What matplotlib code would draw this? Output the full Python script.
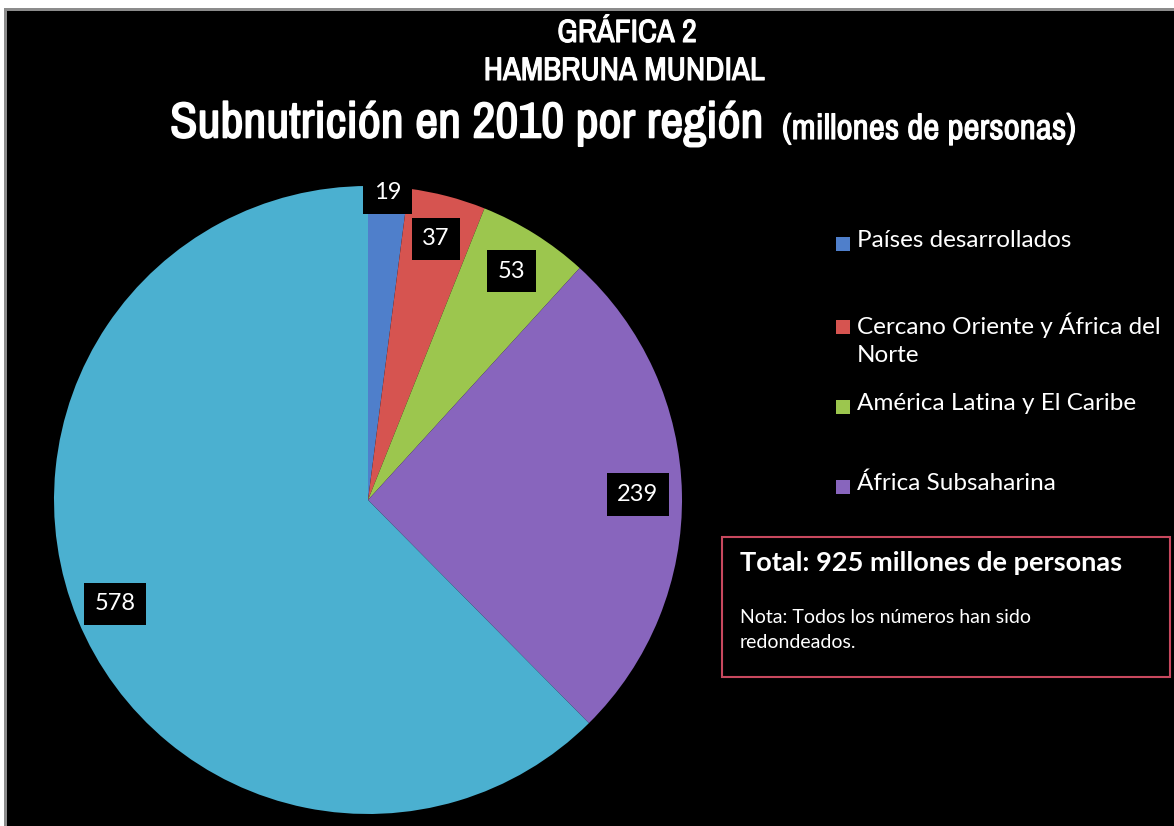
import numpy as np
import matplotlib
matplotlib.use('Agg')
import matplotlib.pyplot as plt
from matplotlib.patches import Rectangle
from matplotlib import patheffects

# Data
regions = ['Países desarrollados', 'Cercano Oriente y África del\nNorte',
           'América Latina y El Caribe', 'África Subsaharina', 'Asia y el Pacífico']
values = [19, 37, 53, 239, 578]
colors = ['#4F7FCB', '#D65450', '#9CC64E', '#8865BD', '#4BB0D0']
total_reported = 925

body = 'Lato'
narrow = ['Archivo Narrow', 'DejaVu Sans']


def bold_fx(lw):
    # Archivo Narrow has no bold face here, thicken it with a stroke
    return [patheffects.withStroke(linewidth=lw, foreground='white')]


W, H = 1174, 826
fig = plt.figure(figsize=(W / 100, H / 100), dpi=100)
fig.patch.set_facecolor('white')
renderer = fig.canvas.get_renderer()


def fit_width(t, target_px):
    # shrink / grow a text so it spans target_px
    w = t.get_window_extent(renderer).width
    t.set_fontsize(t.get_fontsize() * target_px / w)


# black panel with grey frame on top / left
fig.add_artist(Rectangle((6 / W, 0), 1, 1 - 9 / H, transform=fig.transFigure,
                         facecolor='black', edgecolor='none', zorder=-2))
fig.add_artist(Rectangle((4 / W, 0), 3 / W, 1 - 8 / H, transform=fig.transFigure,
                         facecolor='#8c8c8c', edgecolor='none', zorder=-1))
fig.add_artist(Rectangle((4 / W, 1 - 11 / H), 1, 3 / H, transform=fig.transFigure,
                         facecolor='#8c8c8c', edgecolor='none', zorder=-1))

# pie
cx, cy, r = 368, 500, 314
ax = fig.add_axes([(cx - r) / W, (H - cy - r) / H, 2 * r / W, 2 * r / H])
ax.set_facecolor('none')
wedges, _ = ax.pie(values, colors=colors, startangle=90, counterclock=False,
                   wedgeprops=dict(linewidth=0))
ax.set_xlim(-1, 1)
ax.set_ylim(-1, 1)
ax.axis('off')

dists = [0.98, 0.86, 0.86, 0.86, 0.87]
for w, v, d in zip(wedges, values, dists):
    ang = np.deg2rad((w.theta1 + w.theta2) / 2)
    ax.text(d * np.cos(ang), d * np.sin(ang), str(v), ha='center', va='center',
            color='white', fontsize=17, family=body,
            bbox=dict(boxstyle='square,pad=0.45', facecolor='black', edgecolor='none'))

# titles
t1 = fig.text(627 / W, 1 - 33 / H, 'GRÁFICA 2', ha='center', va='center', color='white',
              fontsize=17, family=narrow, path_effects=bold_fx(0.8))
t2 = fig.text(624 / W, 1 - 71 / H, 'HAMBRUNA MUNDIAL', ha='center', va='center',
              color='white', fontsize=17, family=narrow, path_effects=bold_fx(0.8))
t3 = fig.text(170 / W, 1 - 124 / H, 'Subnutrición en 2010 por región', ha='left',
              va='center', color='white', fontsize=28, family=narrow,
              path_effects=bold_fx(1.2))
t4 = fig.text(782 / W, 1 - 129 / H, '(millones de personas)', ha='left', va='center',
              color='white', fontsize=16, family=narrow, path_effects=bold_fx(0.8))
for t, px in [(t1, 139), (t2, 280), (t3, 594), (t4, 295)]:
    fit_width(t, px)

# legend (first four regions)
leg_y = [244, 327, 407, 487]
for name, c, y in zip(regions[:4], colors[:4], leg_y):
    fig.add_artist(Rectangle((836 / W, 1 - (y + 7) / H), 14 / W, 14 / H,
                             transform=fig.transFigure, facecolor=c, edgecolor='none'))
    fig.text(857 / W, 1 - (y - 14) / H, name, ha='left', va='top', color='white',
             fontsize=17.5, family=body, linespacing=1.4)

# total box
fig.add_artist(Rectangle((722 / W, 1 - 677 / H), 448 / W, 140 / H, transform=fig.transFigure,
                         facecolor='black', edgecolor='#C8485E', linewidth=1.5))
fig.text(740 / W, 1 - 563 / H, f'Total: {total_reported} millones de personas', ha='left',
         va='center', color='white', fontsize=19.5, fontweight='bold', family=body)
fig.text(740 / W, 1 - 609 / H, 'Nota: Todos los números han sido\nredondeados.', ha='left',
         va='top', color='white', fontsize=14, family=body, linespacing=1.6)

fig.savefig('out.png', dpi=100, facecolor=fig.get_facecolor())
